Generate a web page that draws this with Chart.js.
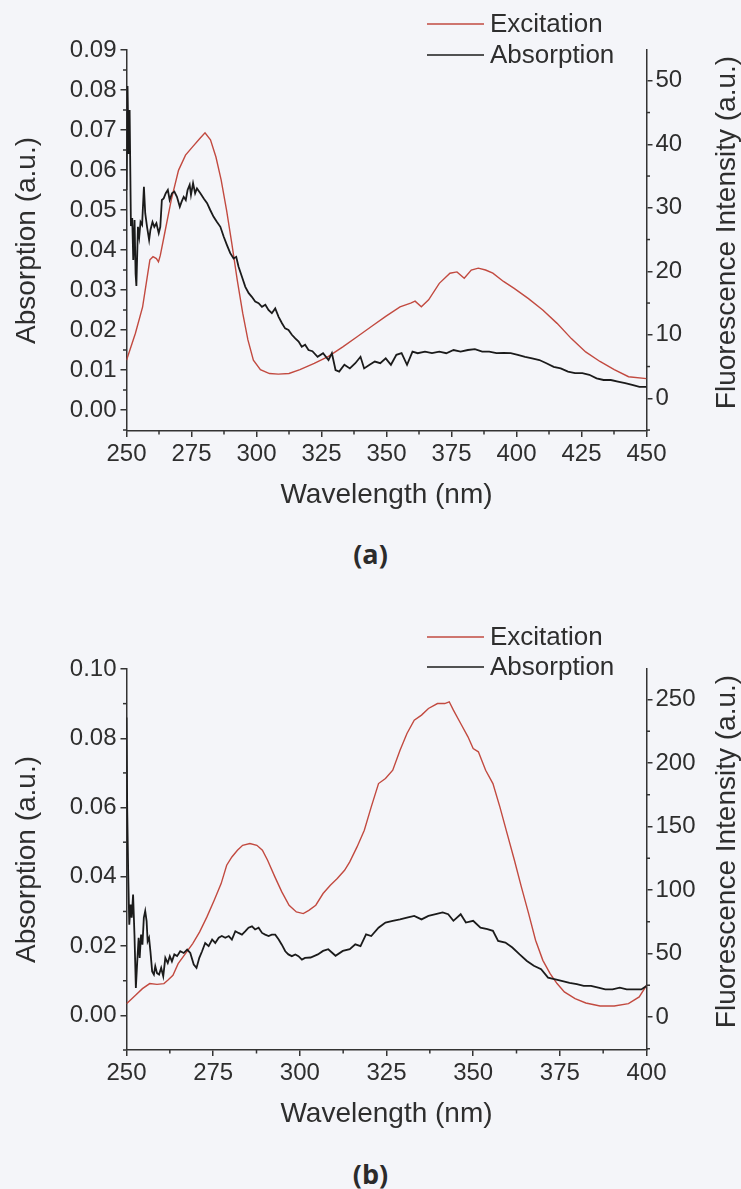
<!DOCTYPE html>
<html><head><meta charset="utf-8">
<script src="https://cdn.jsdelivr.net/npm/chart.js@4.4.0/dist/chart.umd.min.js"></script>
<style>
html,body{margin:0;padding:0;background:#f4f5f9;}
body{width:741px;height:1189px;position:relative;overflow:hidden;}
.wrap{position:absolute;left:0;width:741px;height:522px;}
.cap{position:absolute;left:0;width:741px;text-align:center;font-family:"Open Sans",sans-serif;font-weight:700;font-size:27px;line-height:32px;color:#2b2b2b;}
</style></head><body>
<div class="wrap" style="top:0"><canvas id="ca"></canvas></div>
<div class="wrap" style="top:619px"><canvas id="cb"></canvas></div>
<div class="cap" style="top:538px">(a)</div>
<div class="cap" style="top:1158px">(b)</div>
<script>
// ---------- data (a) ----------
const excA_wl = [250,253.4,256.2,258.2,259.0,260.2,261.5,262.3,263,264.4,267.2,270,272.7,275.4,278.2,280.2,282.3,284.4,286.4,288.5,290.5,292.6,294.7,296.7,298.8,301.5,305,308.4,312.5,316.7,322.2,327.7,333.2,338.7,344.2,349.7,355.2,359.3,361,363.4,366.2,370.3,374.4,377.1,379.9,382.6,385.3,388.1,390.9,395,399.1,404.6,410.1,415.6,421.1,426.6,432.1,437.6,443.1,450];
const excA_val = [6.0,10.2,14.4,19.7,21.8,22.3,22.0,21.5,22.5,25.4,31.2,35.9,38.3,39.6,40.9,41.8,40.7,38.0,34.4,29.6,24.4,18.6,13.4,9.2,6.0,4.5,3.9,3.8,3.9,4.5,5.5,6.6,8.1,9.7,11.3,12.9,14.4,15.0,15.3,14.4,15.5,18.1,19.7,19.9,18.9,20.2,20.5,20.2,19.7,18.4,17.3,15.7,13.9,11.8,9.4,7.3,5.8,4.5,3.4,3.1];
const absA_wl = [250.0,250.4,250.8,251.2,251.7,252.2,252.6,253.1,253.5,253.8,254.4,254.9,255.4,256.0,256.7,257.2,257.9,258.7,259.2,260.0,260.7,261.5,262.4,263.0,263.6,264.3,265.1,265.9,266.6,267.5,268.4,269.4,270.5,271.2,272.0,272.8,273.5,274.3,274.8,275.6,276.4,277.1,278.4,279.7,281.0,282.2,283.5,284.8,286.1,287.4,288.6,289.9,291.2,292.2,293.1,294.4,295.7,297.0,298.2,299.5,300.8,302.1,303.4,304.6,305.9,307.2,308.5,309.8,311.0,312.3,313.6,314.9,316.2,317.4,318.7,320.0,321.5,323.5,325.6,327.7,329.0,330.4,331.8,333.8,335.9,338.0,340.0,341.4,343.5,345.5,347.6,349.7,351.7,353.8,355.8,357.9,360.0,362.0,364.8,367.5,370.3,373.0,375.8,378.5,381.3,384.0,386.8,389.5,392.3,395.0,397.8,400.5,403.3,406.0,408.8,411.5,414.3,417.0,419.8,422.5,425.3,428.0,430.8,433.5,436.3,439.0,441.8,444.5,447.3,450.0];
const absA_val = [0.055,0.081,0.064,0.075,0.046,0.048,0.0375,0.0475,0.034,0.031,0.0458,0.0433,0.047,0.0463,0.0558,0.0492,0.0458,0.0425,0.045,0.047,0.0458,0.0467,0.0442,0.0458,0.0525,0.0529,0.0542,0.055,0.0525,0.0542,0.0546,0.0533,0.0508,0.0521,0.0533,0.0525,0.055,0.0563,0.0538,0.0567,0.0542,0.0554,0.0542,0.0529,0.0517,0.05,0.0483,0.047,0.0458,0.0433,0.0413,0.0392,0.0379,0.0383,0.0358,0.0333,0.0308,0.0292,0.0283,0.0271,0.0267,0.0258,0.0263,0.025,0.0242,0.0254,0.0233,0.0217,0.0204,0.02,0.0188,0.0179,0.0171,0.0158,0.0163,0.015,0.0147,0.0133,0.0142,0.0125,0.0142,0.010,0.0096,0.0113,0.0104,0.0117,0.0133,0.0104,0.0113,0.0121,0.0117,0.0129,0.0113,0.0138,0.0142,0.0113,0.0146,0.0142,0.0146,0.0142,0.0146,0.0142,0.015,0.0146,0.015,0.0152,0.0146,0.0146,0.0142,0.0143,0.0142,0.0138,0.0133,0.0129,0.0125,0.0117,0.0108,0.0104,0.0096,0.0092,0.0092,0.0088,0.0079,0.0075,0.0075,0.0071,0.0067,0.0063,0.0058,0.0058];
const xTicksA = [250,275,300,325,350,375,400,425,450];
const leftTicksA = [0.00,0.01,0.02,0.03,0.04,0.05,0.06,0.07,0.08,0.09];
const rightTicksA = [0,10,20,30,40,50];

// ---------- data (b) ----------
const excB_wl = [250,252.6,254.6,256.7,258.8,260.8,261.9,263.4,264.9,267,269.1,271.1,273.2,275.3,277.3,278.9,280.4,282,283.5,285.6,287.6,289.2,290.7,292.8,294.8,296.9,299,301,302.6,304.6,306.7,308.8,310.8,312.9,314.4,316.5,318.6,320.6,322.7,324.7,326.8,328.9,330.9,333,335.1,337.1,339.7,341.8,343.1,344.3,346.4,348.5,350,351.5,353.6,355.7,357.7,359.8,361.9,363.9,366,368,370.1,372.2,374.2,376.3,379.4,382.5,386.6,390.7,394.8,397.9,400];
const excB_val = [10.5,17.1,22.3,26.3,25.7,26.3,28.9,32.8,42,49.9,57.8,67,78.8,91.9,105,119.5,126,131.3,135.2,136.6,135.2,131.3,123.4,110.3,98.5,88,82.7,81.4,84,88,97.2,103.7,109,115.5,122.1,133.9,147,165.4,183.8,187.8,194.3,210.1,223.2,233.7,237.7,242.9,246.8,246.8,248.2,241.6,231.1,220.6,211.4,208.8,194.3,183.8,165.4,144.4,123.4,102.4,81.4,60.4,44.6,34.1,26.3,19.7,14.4,11,8.7,8.7,10.5,15.8,24.9];
const absB_wl = [250.0,250.2,250.5,250.8,251.2,251.5,251.9,252.3,252.7,253.1,253.5,253.8,254.2,254.6,255.0,255.4,255.8,256.1,256.5,256.9,257.4,257.9,258.3,258.8,259.4,260.0,260.6,261.2,261.9,262.5,263.1,263.8,264.6,265.5,266.5,267.5,268.4,269.4,270.2,271.0,271.8,272.7,273.7,274.7,275.6,276.6,277.5,278.5,279.5,280.4,281.4,282.3,283.3,284.3,285.2,286.2,287.1,288.1,289.1,290.0,291.0,291.9,292.9,293.9,294.8,295.8,296.7,297.7,298.7,299.6,300.6,301.5,303.1,305.2,306.7,308.2,310.3,312.4,314.4,316.0,317.5,319.1,320.6,322.7,324.7,326.8,328.9,330.9,333.0,335.1,337.1,339.2,341.2,342.8,344.3,346.4,347.9,350.0,352.1,354.1,355.7,357.2,359.3,361.3,363.4,365.5,367.5,369.6,371.6,373.7,375.8,377.8,379.9,381.9,384.0,386.1,388.1,390.2,392.3,394.3,396.4,398.5,400.0];
const absB_val = [0.086,0.06,0.0407,0.0262,0.032,0.0282,0.0349,0.0233,0.0079,0.0156,0.0224,0.0166,0.0233,0.0204,0.0282,0.0301,0.0272,0.0214,0.0224,0.0185,0.0127,0.0118,0.0142,0.0122,0.0118,0.0137,0.0113,0.0166,0.0151,0.0171,0.0156,0.0176,0.0171,0.0185,0.018,0.019,0.018,0.0147,0.0137,0.0166,0.0185,0.0209,0.02,0.0219,0.0209,0.0224,0.0229,0.0224,0.0229,0.0219,0.0243,0.0238,0.0233,0.0243,0.0253,0.0257,0.0248,0.0253,0.0238,0.0233,0.0229,0.0233,0.0233,0.0219,0.0204,0.0185,0.0176,0.0171,0.0176,0.0171,0.0161,0.0166,0.0167,0.0176,0.0186,0.0191,0.0172,0.0186,0.0191,0.0205,0.02,0.0234,0.0229,0.0253,0.0268,0.0273,0.0277,0.0282,0.0287,0.0277,0.0287,0.0292,0.0297,0.0292,0.0273,0.0292,0.0268,0.0273,0.0253,0.0249,0.0244,0.0215,0.021,0.0196,0.0176,0.0157,0.0143,0.0133,0.0109,0.0104,0.0099,0.0094,0.009,0.0085,0.0085,0.008,0.0075,0.0075,0.008,0.0075,0.0075,0.0075,0.0085];
const xTicksB = [250,275,300,325,350,375,400];
const leftTicksB = [0.00,0.02,0.04,0.06,0.08,0.10];
const rightTicksB = [0,50,100,150,200,250];

const seriesNames = ['Excitation','Absorption'];
const xTitle = 'Wavelength (nm)';
const leftTitle = 'Absorption (a.u.)';
const rightTitle = 'Fluorescence Intensity (a.u.)';

// ---------- style ----------
const RED = '#c24a40', BLK = '#1b1b1b', AXIS = '#333333', TXT = '#2e2e2e';
const FONT = "'Liberation Sans', Arial, sans-serif";
Chart.defaults.font.family = FONT;
Chart.defaults.color = TXT;

function pts(xs, ys){ return xs.map((x,i)=>({x:x, y:ys[i]})); }

function minorVals(major, lo, hi){
  const out = [];
  const st = major[1]-major[0];
  for (let i=0;i<major.length-1;i++) out.push((major[i]+major[i+1])/2);
  const a = major[0]-st/2, b = major[major.length-1]+st/2;
  if (a >= lo-1e-9) out.unshift(a);
  if (b <= hi+1e-9) out.push(b);
  return out;
}

const extrasPlugin = {
  id: 'extras',
  afterDraw(chart, args, o) {
    const {ctx, chartArea: ca, scales} = chart;
    ctx.save();
    ctx.strokeStyle = AXIS; ctx.lineWidth = 1.5;
    const mL = 3.5;
    const sx = scales.x, sl = scales.yL, sr = scales.yR;
    minorVals(o.xTicks, sx.min, sx.max).forEach(v => {
      const p = sx.getPixelForValue(v);
      ctx.beginPath(); ctx.moveTo(p, ca.bottom); ctx.lineTo(p, ca.bottom + mL); ctx.stroke();
    });
    minorVals(o.leftTicks, sl.min, sl.max).forEach(v => {
      const p = sl.getPixelForValue(v);
      ctx.beginPath(); ctx.moveTo(ca.left, p); ctx.lineTo(ca.left - mL, p); ctx.stroke();
    });
    minorVals(o.rightTicks, sr.min, sr.max).forEach(v => {
      const p = sr.getPixelForValue(v);
      ctx.beginPath(); ctx.moveTo(ca.right, p); ctx.lineTo(ca.right + mL, p); ctx.stroke();
    });
    // right axis title (reads bottom to top)
    ctx.save();
    ctx.translate(o.rTitleX, (ca.top + ca.bottom)/2 + o.rTitleDy);
    ctx.rotate(-Math.PI/2);
    ctx.fillStyle = TXT; ctx.font = '28px ' + FONT;
    ctx.textAlign = 'center'; ctx.textBaseline = 'middle';
    ctx.fillText(rightTitle, 0, 0);
    ctx.restore();
    // legend
    const order = [1, 0];
    ctx.font = '26px ' + FONT; ctx.textBaseline = 'middle'; ctx.textAlign = 'left';
    order.forEach((di, k) => {
      const ds = chart.data.datasets[di];
      const y = o.legendY[k];
      ctx.strokeStyle = ds.borderColor; ctx.lineWidth = 1.5;
      ctx.beginPath(); ctx.moveTo(o.legendX0, y); ctx.lineTo(o.legendX1, y); ctx.stroke();
      ctx.fillStyle = TXT;
      ctx.fillText(ds.label, o.legendTextX, y + 1);
    });
    ctx.restore();
  }
};

function makeChart(id, cfg) {
  const setTicks = arr => (s => { s.ticks = arr.map(v => ({value: v})); });
  const gridOpt = {drawOnChartArea: false, drawTicks: true, tickLength: 6, color: AXIS, lineWidth: 1.5};
  const borderOpt = {display: true, color: AXIS, width: 1.5};
  return new Chart(document.getElementById(id), {
    type: 'line',
    data: {
      datasets: [
        {label: seriesNames[1], data: pts(cfg.absWl, cfg.absVal), yAxisID: 'yL',
         borderColor: BLK, borderWidth: 1.8, pointRadius: 0, tension: 0, fill: false, order: 0},
        {label: seriesNames[0], data: pts(cfg.excWl, cfg.excVal), yAxisID: 'yR',
         borderColor: RED, borderWidth: 1.4, pointRadius: 0, tension: 0, fill: false, order: 1}
      ]
    },
    options: {
      animation: false, responsive: true, maintainAspectRatio: false,
      layout: {padding: {top: 50, left: 0, right: 0, bottom: 0}},
      plugins: {
        legend: {display: false}, tooltip: {enabled: false},
        extras: {xTicks: cfg.xTicks, leftTicks: cfg.leftTicks, rightTicks: cfg.rightTicks,
                 rTitleX: 727, rTitleDy: -8, legendY: cfg.legendY,
                 legendX0: 427, legendX1: 484, legendTextX: 490}
      },
      scales: {
        x: {
          type: 'linear', position: 'bottom', min: cfg.xMin, max: cfg.xMax,
          afterFit: s => { s.height = 91; },
          afterBuildTicks: setTicks(cfg.xTicks),
          ticks: {font: {size: 24}, color: TXT, padding: 3, maxRotation: 0, autoSkip: false,
                  callback: v => String(v)},
          grid: gridOpt, border: borderOpt,
          title: {display: true, text: xTitle, font: {size: 28}, color: TXT, padding: {top: 0, bottom: 10}}
        },
        yL: {
          type: 'linear', position: 'left', min: cfg.lMin, max: cfg.lMax,
          afterFit: s => { s.width = 126.5; },
          afterBuildTicks: setTicks(cfg.leftTicks),
          ticks: {font: {size: 24}, color: TXT, padding: 4, autoSkip: false,
                  callback: v => Number(v).toFixed(2)},
          grid: gridOpt, border: borderOpt,
          title: {display: true, text: leftTitle, font: {size: 28}, color: TXT, padding: {top: 10, bottom: 10}}
        },
        yR: {
          type: 'linear', position: 'right', min: cfg.rMin, max: cfg.rMax,
          afterFit: s => { s.width = 94.5; },
          afterBuildTicks: setTicks(cfg.rightTicks),
          ticks: {font: {size: 24}, color: TXT, padding: 3, autoSkip: false,
                  callback: v => String(Math.round(v))},
          grid: gridOpt, border: borderOpt
        }
      }
    },
    plugins: [extrasPlugin]
  });
}

makeChart('ca', {
  excWl: excA_wl, excVal: excA_val, absWl: absA_wl, absVal: absA_val,
  xTicks: xTicksA, leftTicks: leftTicksA, rightTicks: rightTicksA,
  xMin: 250, xMax: 450, lMin: -0.00525, lMax: 0.09, rMin: -5.15, rMax: 54.85,
  legendY: [24, 55]
});
makeChart('cb', {
  excWl: excB_wl, excVal: excB_val, absWl: absB_wl, absVal: absB_val,
  xTicks: xTicksB, leftTicks: leftTicksB, rightTicks: rightTicksB,
  xMin: 250, xMax: 400, lMin: -0.01, lMax: 0.10, rMin: -26, rMax: 274,
  legendY: [18, 48]
});
</script>
</body></html>
